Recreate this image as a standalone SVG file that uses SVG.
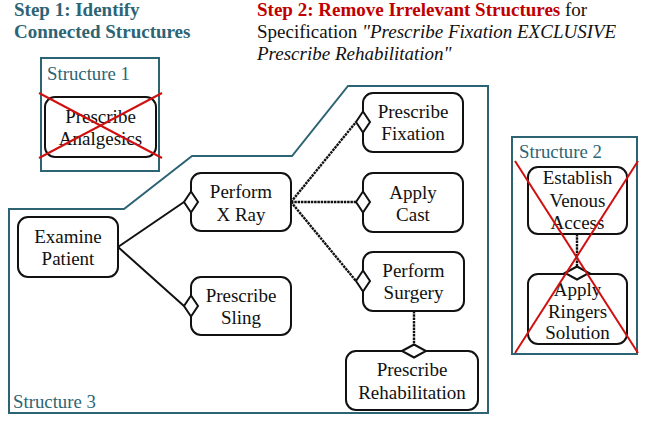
<svg xmlns="http://www.w3.org/2000/svg" width="646" height="421" viewBox="0 0 646 421">
  <style>
    .title { font-family: "Liberation Serif", "Times New Roman", serif; font-size: 19px; font-weight: bold; }
    .teal { fill: #2d6474; }
    .red { fill: #c00000; }
    .plain { font-family: "Liberation Serif", "Times New Roman", serif; font-size: 19px; fill: #111; }
    .label { font-family: "Liberation Serif", "Times New Roman", serif; font-size: 18.8px; fill: #2d6474; }
    .frame { fill: none; stroke: #2d6474; stroke-width: 2; }
    .node rect { fill: #fff; stroke: #111; stroke-width: 2; }
    .node text { font-family: "Liberation Serif", "Times New Roman", serif; font-size: 19px; fill: #111; text-anchor: middle; }
    .solid { stroke: #111; stroke-width: 2; fill: none; }
    .dotted { stroke: #111; stroke-width: 2.4; fill: none; stroke-dasharray: 2.5 0.8; }
    .diamond { fill: #fff; stroke: #111; stroke-width: 2; }
    .cross { stroke: #d01010; stroke-width: 2; fill: none; }
  </style>
  <defs>
    <!-- diamond attached to a vertical box edge -->
    <path id="dv" d="M-7,0 L0,-10.5 L7,0 L0,10.5 Z"/>
    <!-- diamond attached to a horizontal box edge -->
    <path id="dh" d="M-12,0 L0,-6.5 L12,0 L0,6.5 Z"/>
  </defs>

  <!-- headings -->
  <text class="title teal" x="14" y="16">Step 1: Identify</text>
  <text class="title teal" x="14" y="38">Connected Structures</text>
  <text class="plain" x="257" y="16"><tspan class="title red">Step 2: Remove Irrelevant Structures</tspan> for</text>
  <text class="plain" x="257" y="38">Specification <tspan font-style="italic">"Prescribe Fixation EXCLUSIVE</tspan></text>
  <text class="plain" x="257" y="60" font-style="italic">Prescribe Rehabilitation"</text>

  <!-- structure frames -->
  <g id="structure1-frame">
    <rect class="frame" x="41" y="58" width="118" height="113"/>
    <text class="label" x="47" y="80">Structure 1</text>
  </g>
  <g id="structure2-frame">
    <rect class="frame" x="512" y="137" width="125" height="217"/>
    <text class="label" x="519" y="158">Structure 2</text>
  </g>
  <g id="structure3-frame">
    <path class="frame" d="M9,413 L9,209 L124,209 L192,156 L292,156 L348,86 L488,86 L488,413 Z"/>
    <text class="label" x="13" y="408">Structure 3</text>
  </g>

  <!-- connectors -->
  <g id="connectors">
    <line class="solid" x1="118" y1="247" x2="184" y2="202"/>
    <line class="solid" x1="118" y1="247" x2="184" y2="306"/>
    <line class="dotted" x1="291" y1="202" x2="356" y2="122"/>
    <line class="dotted" x1="291" y1="202" x2="356" y2="202"/>
    <line class="dotted" x1="291" y1="202" x2="356" y2="281"/>
    <line class="dotted" x1="414" y1="311" x2="414" y2="345"/>
    <line class="dotted" x1="577" y1="234" x2="577" y2="267"/>
  </g>

  <!-- nodes -->
  <g id="prescribe-analgesics" class="node">
    <rect x="45" y="97" width="111" height="60" rx="10"/>
    <text x="100.5" y="123">Prescribe</text>
    <text x="100.5" y="145">Analgesics</text>
  </g>
  <g id="examine-patient" class="node">
    <rect x="18" y="217" width="100" height="60" rx="10"/>
    <text x="68" y="243">Examine</text>
    <text x="68" y="265">Patient</text>
  </g>
  <g id="perform-x-ray" class="node">
    <rect x="191" y="173" width="100" height="58" rx="10"/>
    <text x="241" y="198">Perform</text>
    <text x="241" y="221">X Ray</text>
    <use href="#dv" class="diamond" x="191" y="202"/>
  </g>
  <g id="prescribe-sling" class="node">
    <rect x="191" y="277" width="100" height="58" rx="10"/>
    <text x="241" y="302">Prescribe</text>
    <text x="241" y="324">Sling</text>
    <use href="#dv" class="diamond" x="191" y="306"/>
  </g>
  <g id="prescribe-fixation" class="node">
    <rect x="363" y="93" width="100" height="59" rx="10"/>
    <text x="413" y="118">Prescribe</text>
    <text x="413" y="140">Fixation</text>
    <use href="#dv" class="diamond" x="363" y="122"/>
  </g>
  <g id="apply-cast" class="node">
    <rect x="363" y="173" width="100" height="59" rx="10"/>
    <text x="413" y="199">Apply</text>
    <text x="413" y="221">Cast</text>
    <use href="#dv" class="diamond" x="363" y="202"/>
  </g>
  <g id="perform-surgery" class="node">
    <rect x="363" y="252" width="101" height="59" rx="10"/>
    <text x="413.5" y="277">Perform</text>
    <text x="413.5" y="299">Surgery</text>
    <use href="#dv" class="diamond" x="363" y="281"/>
  </g>
  <g id="prescribe-rehabilitation" class="node">
    <rect x="346" y="351" width="132" height="59" rx="10"/>
    <text x="412" y="376">Prescribe</text>
    <text x="412" y="399">Rehabilitation</text>
    <use href="#dh" class="diamond" x="414" y="351"/>
  </g>
  <g id="establish-venous-access" class="node">
    <rect x="528" y="167" width="99" height="67" rx="10"/>
    <text x="577.5" y="184">Establish</text>
    <text x="577.5" y="207">Venous</text>
    <text x="577.5" y="229">Access</text>
  </g>
  <g id="apply-ringers-solution" class="node">
    <rect x="528" y="274" width="99" height="70" rx="10"/>
    <text x="577.5" y="296">Apply</text>
    <text x="577.5" y="318">Ringers</text>
    <text x="577.5" y="339">Solution</text>
    <use href="#dh" class="diamond" x="577" y="273"/>
  </g>

  <!-- strike-outs over removed structures -->
  <g id="strikeouts">
    <line class="cross" x1="39" y1="93" x2="162" y2="158"/>
    <line class="cross" x1="39" y1="158" x2="162" y2="93"/>
    <line class="cross" x1="515" y1="161" x2="638" y2="353"/>
    <line class="cross" x1="638" y1="161" x2="515" y2="353"/>
  </g>
</svg>
